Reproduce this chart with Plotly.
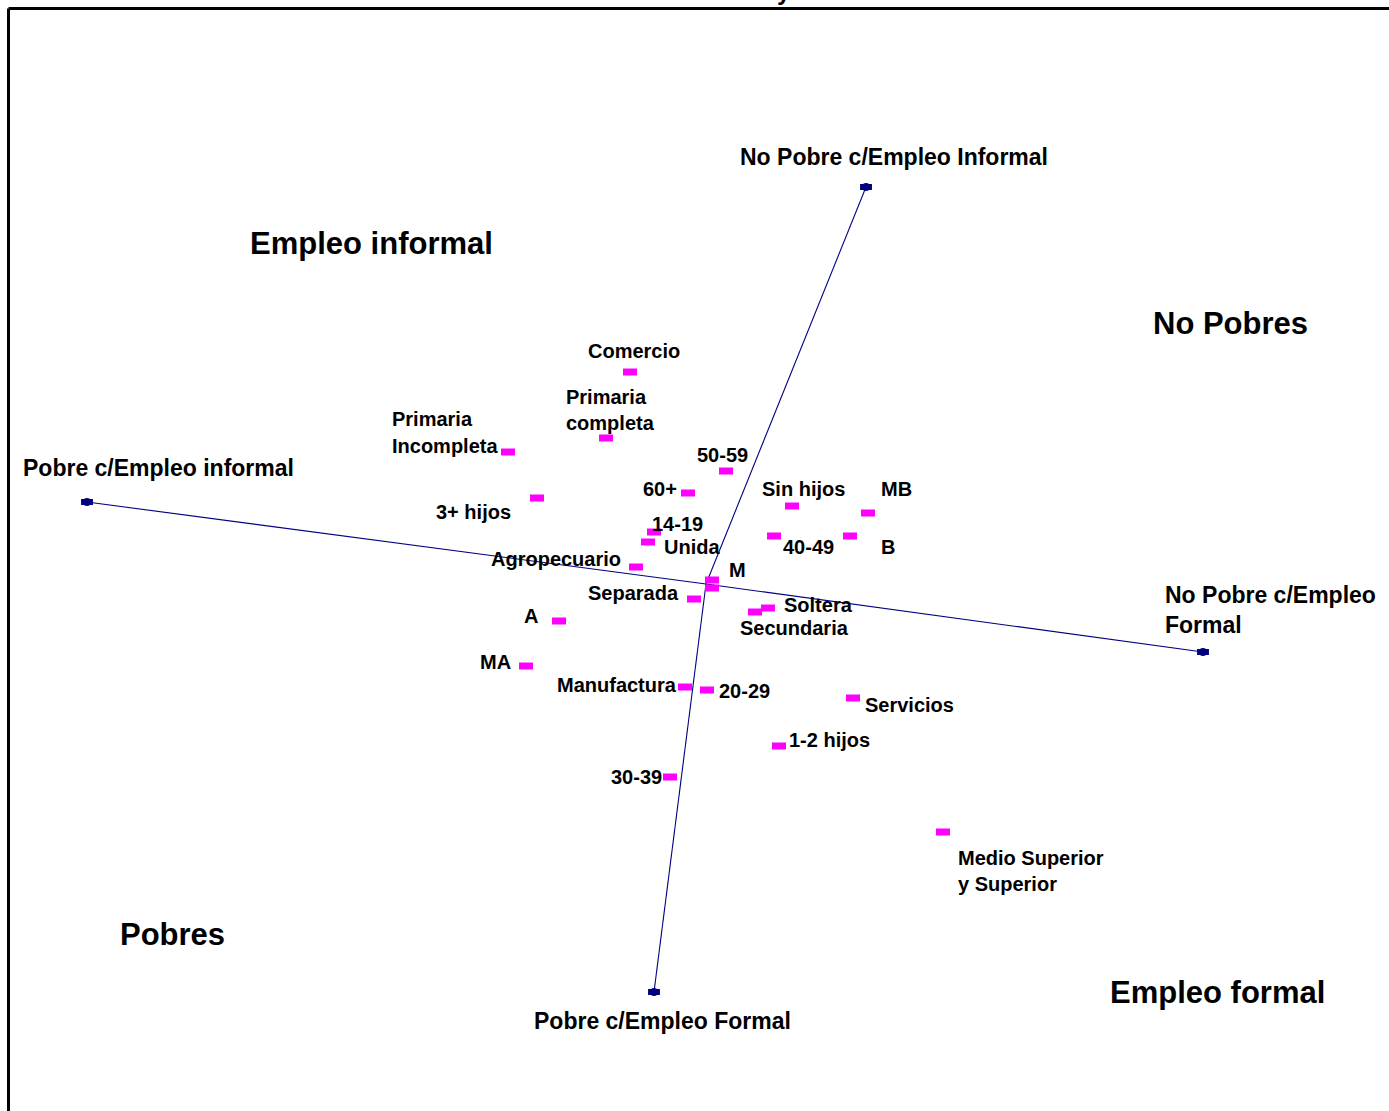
import plotly.graph_objects as go

# ---------------- data (correspondence-analysis coordinates) ----------------
cat_labels = ["Comercio", "Primaria\ncompleta", "Primaria\nIncompleta", "3+ hijos", "50-59", "60+",
              "14-19", "Unida", "Agropecuario", "M", "", "Separada", "Soltera", "Secundaria",
              "Sin hijos", "MB", "40-49", "B", "A", "MA", "Manufactura", "20-29", "1-2 hijos",
              "30-39", "Servicios", "Medio Superior\ny Superior"]
cat_x = [-0.152, -0.200, -0.396, -0.338, 0.040, -0.036, -0.104, -0.116, -0.140, 0.012, 0.012,
         -0.024, 0.124, 0.098, 0.172, 0.324, 0.136, 0.288, -0.294, -0.360, -0.042, 0.002, 0.146,
         -0.072, 0.294, 0.474]
cat_y = [0.424, 0.292, 0.264, 0.172, 0.226, 0.182, 0.104, 0.084, 0.034, 0.008, -0.008, -0.030,
         -0.048, -0.056, 0.156, 0.142, 0.096, 0.096, -0.074, -0.164, -0.206, -0.212, -0.324,
         -0.386, -0.228, -0.496]

group_labels = ["No Pobre c/Empleo Informal", "Pobre c/Empleo informal",
                "No Pobre c/Empleo\nFormal", "Pobre c/Empleo Formal"]
group_x = [0.320, -1.238, 0.994, -0.104]
group_y = [0.794, 0.164, -0.136, -0.816]

quadrant_labels = ["Empleo informal", "No Pobres", "Pobres", "Empleo formal"]
quadrant_x = [-0.669, 1.048, -1.067, 1.022]
quadrant_y = [0.682, 0.522, -0.700, -0.816]

title_text = "y"

# ---------------- label placement (style) ----------------
cat_place = [("center", 4, 21, 26), ("left", -42, 41, 26), ("left", -118, 33, 27),
             ("right", -24, -14, 26), ("center", -4, 16, 26), ("right", -9, 4, 26),
             ("left", -4, 8, 26), ("left", 14, -5, 26), ("right", -13, 8, 26),
             ("left", 15, 10, 26), ("left", 0, 0, 26), ("right", -13, 6, 26),
             ("left", 14, 3, 26), ("left", -17, -16, 26), ("left", -32, 17, 26),
             ("left", 11, 24, 26), ("left", 7, -11, 26), ("left", 29, -11, 26),
             ("right", -19, 5, 26), ("right", -13, 4, 26), ("right", -6, 2, 26),
             ("left", 10, -1, 26), ("left", 8, 6, 26), ("right", -6, 0, 26),
             ("left", 10, -7, 26), ("left", 13, -26, 26)]
group_place = [("center", 28, 30, 30), ("center", 71, 34, 30),
               ("left", -40, 57, 30), ("center", 8, -29, 30)]

FONT = "Liberation Sans, Arial, sans-serif"
NAVY = "#000080"
MAGENTA = "#ff00ff"

fig = go.Figure()

# biplot axes: segments from the centre to each group point
seg_x, seg_y = [], []
for gx, gy in zip(group_x, group_y):
    seg_x += [0, gx, None]
    seg_y += [0, gy, None]
fig.add_trace(go.Scatter(x=seg_x, y=seg_y, mode="lines",
                         line=dict(color=NAVY, width=1.1), hoverinfo="skip"))

# group points (navy ellipses)
fig.add_trace(go.Scatter(x=group_x, y=group_y, mode="markers",
                         marker=dict(symbol="line-ew", size=8.5,
                                     line=dict(color=NAVY, width=6)), hoverinfo="skip"))
fig.add_trace(go.Scatter(x=group_x, y=group_y, mode="markers",
                         marker=dict(symbol="circle", size=8, color=NAVY,
                                     line=dict(width=0)), hoverinfo="skip"))

# category points (magenta rectangles)
fig.add_trace(go.Scatter(x=cat_x, y=cat_y, mode="markers",
                         marker=dict(symbol="line-ew", size=10,
                                     line=dict(color=MAGENTA, width=7)), hoverinfo="skip"))

annotations = []


def add_label(text, x, y, place, size):
    anchor, dx, dy, gap = place
    for k, line in enumerate(text.split("\n")):
        if not line:
            continue
        annotations.append(dict(x=x, y=y, xref="x", yref="y", text="<b>%s</b>" % line,
                                showarrow=False, xanchor=anchor, yanchor="middle",
                                xshift=dx, yshift=dy - k * gap,
                                font=dict(family=FONT, size=size, color="black")))


for t, x, y, p in zip(cat_labels, cat_x, cat_y, cat_place):
    add_label(t, x, y, p, 20)
for t, x, y, p in zip(group_labels, group_x, group_y, group_place):
    add_label(t, x, y, p, 23)
for t, x, y in zip(quadrant_labels, quadrant_x, quadrant_y):
    annotations.append(dict(x=x, y=y, xref="x", yref="y", text="<b>%s</b>" % t,
                            showarrow=False, xanchor="center", yanchor="middle",
                            font=dict(family=FONT, size=31, color="black")))

# clipped title (only the descender is visible at the top edge)
annotations.append(dict(x=784 / 1389, y=1, xref="paper", yref="paper", text="<b>%s</b>" % title_text,
                        showarrow=False, xanchor="center", yanchor="middle", yshift=9,
                        font=dict(family=FONT, size=24, color="black")))

# frame (left and top edges visible)
shapes = [
    dict(type="line", xref="paper", yref="paper", x0=8.5 / 1389, x1=8.5 / 1389,
         y0=1 - 8.5 / 1111, y1=-0.1, line=dict(color="black", width=3)),
    dict(type="line", xref="paper", yref="paper", x0=8.5 / 1389, x1=1.1,
         y0=1 - 8.5 / 1111, y1=1 - 8.5 / 1111, line=dict(color="black", width=3)),
]

fig.update_layout(
    width=1389, height=1111, autosize=False,
    margin=dict(l=0, r=0, t=0, b=0, pad=0),
    paper_bgcolor="white", plot_bgcolor="white",
    showlegend=False, hovermode=False,
    xaxis=dict(range=[-1.412, 1.366], visible=False, fixedrange=True),
    yaxis=dict(range=[-1.054, 1.168], visible=False, fixedrange=True),
    annotations=annotations, shapes=shapes,
)

fig.write_html("out.html", config={"displayModeBar": False},
               post_script="document.body.style.margin='0';document.body.style.overflow='hidden';")
